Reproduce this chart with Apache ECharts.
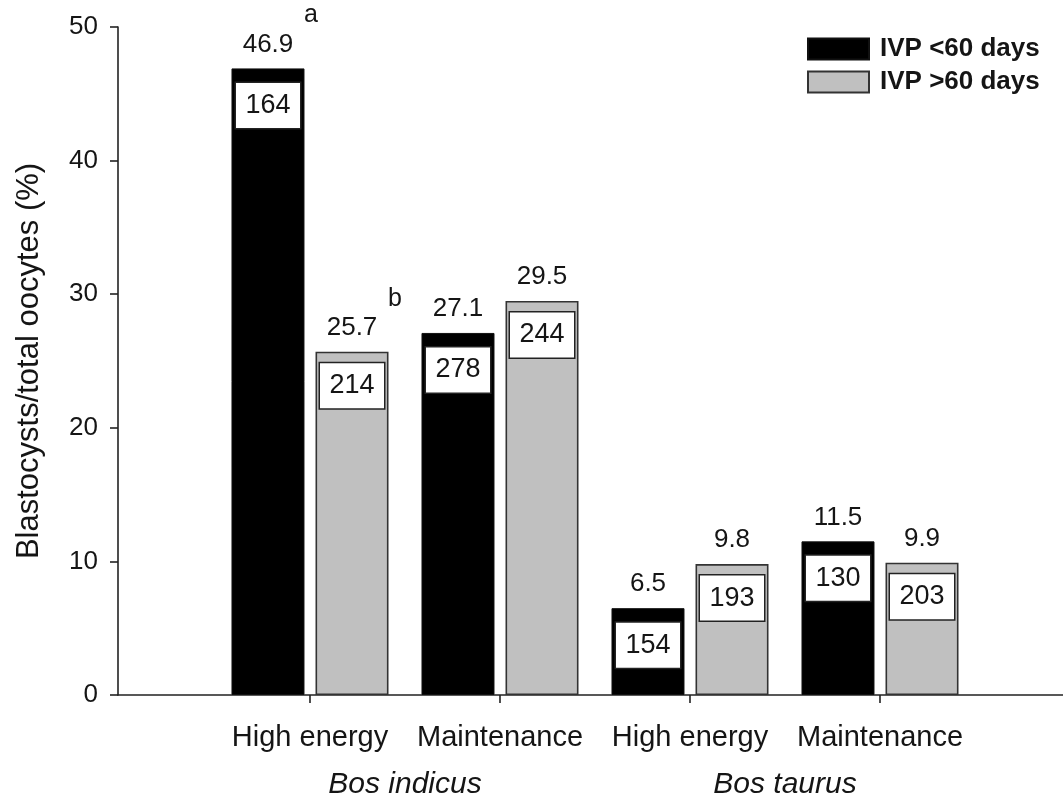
<!DOCTYPE html>
<html>
<head>
<meta charset="utf-8">
<title>Blastocyst rate by diet and IVP timing</title>
<script src="https://cdn.jsdelivr.net/npm/echarts@6/dist/echarts.min.js"></script>
<style>
  html, body { margin: 0; padding: 0; background: #ffffff; }
  #chart { width: 1063px; height: 797px; }
</style>
</head>
<body>
<div id="chart"></div>
<script>
// Diet groups within each breed, and the two breeds they belong to
const categories = ['High energy', 'Maintenance', 'High energy', 'Maintenance'];
const breeds = ['Bos indicus', 'Bos taurus'];
const seriesNames = ['IVP <60 days', 'IVP >60 days'];

// Blastocysts / total oocytes (%)
const earlyIvp = [46.9, 27.1, 6.5, 11.5];
const lateIvp = [25.7, 29.5, 9.8, 9.9];

// Number of oocytes per group
const earlyN = [164, 278, 154, 130];
const lateN = [214, 244, 193, 203];

// Significance letters
const earlyLetters = ['a', '', '', ''];
const lateLetters = ['b', '', '', ''];

// Value axis range and step
const yMin = 0, yMax = 50, yStep = 10;

// ---- styling ----
const FONT = '"Liberation Sans", Arial, Helvetica, sans-serif';
const INK = '#151515';
const GREY = '#c0c0c0';
const BAR_W = 73;
const BAR_GAP = 11;                       // px between the two bars of a pair
const HALF = (BAR_W + BAR_GAP) / 2;       // bar centre distance from category centre
const plotTop = 27, plotBottom = 102;

const chart = echarts.init(document.getElementById('chart'), null, { renderer: 'canvas' });

// invisible anchor points used only to carry labels
const anchorStyle = { color: 'rgba(0,0,0,0)', opacity: 1 };

function boxSeries(values, counts, dx, drop) {
  return {
    type: 'scatter',
    xAxisIndex: 1, yAxisIndex: 1,
    symbolSize: 1,
    itemStyle: anchorStyle,
    silent: true,
    z: 5,
    data: values.map((v, i) => ({ value: [i, v], n: counts[i] })),
    label: {
      show: true,
      position: 'inside',
      offset: [dx, drop + 23],
      formatter: p => String(p.data.n),
      width: 64, height: 45, lineHeight: 45,
      align: 'center', verticalAlign: 'middle',
      backgroundColor: '#ffffff',
      borderColor: '#222222', borderWidth: 1.5,
      opacity: 1,
      fontFamily: FONT, fontSize: 27, color: INK
    }
  };
}

function letterSeries(values, letters, dx) {
  return {
    type: 'scatter',
    xAxisIndex: 1, yAxisIndex: 1,
    symbolSize: 1,
    itemStyle: anchorStyle,
    silent: true,
    z: 5,
    data: values.map((v, i) => ({ value: [i, v], t: letters[i] })),
    label: {
      show: true,
      position: 'inside',
      offset: [dx + 43, -53],
      formatter: p => p.data.t,
      opacity: 1,
      fontFamily: FONT, fontSize: 25, color: INK
    }
  };
}

const valueLabel = {
  show: true,
  position: 'top',
  distance: 11,
  formatter: p => p.value.toFixed(1),
  fontFamily: FONT, fontSize: 26, color: INK
};

const option = {
  animation: false,
  backgroundColor: '#ffffff',
  grid: [
    { left: 118, right: -10, top: plotTop, bottom: plotBottom, outerBoundsMode: 'none', containLabel: false },
    { left: 215, right: 88, top: plotTop, bottom: plotBottom, outerBoundsMode: 'none', containLabel: false }
  ],
  legend: {
    data: seriesNames,
    orient: 'vertical',
    left: 802, top: 31,
    itemWidth: 61, itemHeight: 21, itemGap: 7,
    icon: 'rect',
    selectedMode: false,
    textStyle: { fontFamily: FONT, fontSize: 26, fontWeight: 'bold', color: INK, padding: [0, 0, 0, 6] }
  },
  xAxis: [
    {
      gridIndex: 0, type: 'value', min: 0, max: 1,
      axisLine: { show: true, lineStyle: { color: '#222222', width: 1.6 } },
      axisTick: { show: false }, axisLabel: { show: false }, splitLine: { show: false }
    },
    {
      gridIndex: 1, type: 'category', data: categories,
      axisLine: { show: false },
      axisTick: { show: true, alignWithLabel: true, length: 8, lineStyle: { color: '#222222', width: 1.6 } },
      axisLabel: { interval: 0, hideOverlap: false, fontFamily: FONT, fontSize: 29, color: INK, margin: 28 },
      splitLine: { show: false }
    },
    {
      gridIndex: 1, type: 'category', data: breeds, position: 'bottom',
      axisLine: { show: false }, axisTick: { show: false },
      axisLabel: { interval: 0, fontFamily: FONT, fontSize: 30, fontStyle: 'italic', color: INK, margin: 75 },
      splitLine: { show: false }
    }
  ],
  yAxis: [
    {
      gridIndex: 0, type: 'value', min: yMin, max: yMax, interval: yStep,
      name: 'Blastocysts/total oocytes (%)',
      nameLocation: 'middle', nameGap: 73,
      nameTextStyle: { fontFamily: FONT, fontSize: 31, color: INK },
      axisLine: { show: true, lineStyle: { color: '#222222', width: 1.6 } },
      axisTick: { show: true, inside: false, length: 8, lineStyle: { color: '#222222', width: 1.6 } },
      axisLabel: { fontFamily: FONT, fontSize: 26, color: INK, margin: 20 },
      splitLine: { show: false }
    },
    {
      gridIndex: 1, type: 'value', min: yMin, max: yMax, interval: yStep,
      show: false, splitLine: { show: false }
    }
  ],
  series: [
    {
      name: seriesNames[0], type: 'bar',
      xAxisIndex: 1, yAxisIndex: 1,
      data: earlyIvp,
      barWidth: BAR_W, barGap: (BAR_GAP / BAR_W * 100).toFixed(1) + '%',
      itemStyle: { color: '#000000', borderColor: '#111111', borderWidth: 1 },
      label: valueLabel,
      silent: true
    },
    {
      name: seriesNames[1], type: 'bar',
      xAxisIndex: 1, yAxisIndex: 1,
      data: lateIvp,
      barWidth: BAR_W, barGap: (BAR_GAP / BAR_W * 100).toFixed(1) + '%',
      itemStyle: { color: GREY, borderColor: '#333333', borderWidth: 1.6 },
      label: valueLabel,
      silent: true
    },
    boxSeries(earlyIvp, earlyN, -HALF, 14),
    boxSeries(lateIvp, lateN, HALF, 11),
    letterSeries(earlyIvp, earlyLetters, -HALF),
    letterSeries(lateIvp, lateLetters, HALF)
  ]
};

chart.setOption(option);
</script>
</body>
</html>
